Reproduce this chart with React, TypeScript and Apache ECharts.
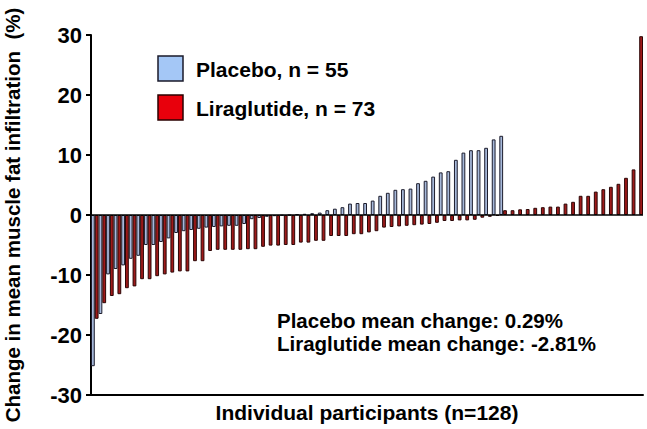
import React, { useEffect, useRef } from "react";
import * as echarts from "echarts";

const placebo: number[] = [
  -25.2, -16.5, -9.9, -9.0, -8.4, -7.3, -6.8, -5.0, -5.0, -4.5, -3.9, -3.0, -2.7,
  -2.5, -2.3, -2.1, -2.0, -1.9, -1.8, -1.8, -1.5, -0.7, -0.5, -0.3, -0.2, -0.1, -0.05,
  0.1, 0.2, 0.3, 0.4, 0.8, 1.05, 1.3, 1.9, 2.0, 2.0, 2.4, 3.2, 3.7, 4.2, 4.3, 4.4,
  5.3, 5.7, 6.4, 7.1, 7.3, 9.2, 10.4, 10.8, 10.8, 11.2, 12.6, 13.2,
];

const liraglutide: number[] = [
  -17.3, -14.7, -13.5, -13.2, -12.2, -11.9, -10.7, -10.7, -10.2, -9.9, -9.6, -9.4, -9.4,
  -7.7, -7.7, -6.0, -5.8, -5.8, -5.8, -5.8, -5.7, -5.7, -5.3, -5.1, -5.1,
  -5.0, -5.0, -4.6, -4.6, -4.3, -4.3, -3.5, -3.5, -3.5, -3.2, -3.2, -2.9, -2.7, -2.1,
  -2.0, -1.9, -1.8, -1.7, -1.6, -1.5, -1.3, -1.0, -1.0, -0.9, -0.9, -0.8, -0.45, -0.3, -0.15,
  0.8, 0.8, 0.95, 1.0, 1.2, 1.3, 1.4, 1.4, 1.9, 2.2, 3.2, 3.2, 3.9, 4.3, 4.7, 5.2, 6.2, 7.6, 29.8,
];

const categories: string[] = liraglutide.map((_, i) => String(i + 1));
const legendLabels: string[] = ["Placebo, n = 55", "Liraglutide, n = 73"];
const meanLabels: string[] = ["Placebo mean change: 0.29%", "Liraglutide mean change: -2.81%"];

const FONT = "'Liberation Sans', Arial, Helvetica, sans-serif";

export default function App() {
  const ref = useRef<HTMLDivElement>(null);
  useEffect(() => {
    if (!ref.current) return;
    const chart = echarts.init(ref.current, undefined, { renderer: "svg" });
    chart.setOption({
      animation: false,
      backgroundColor: "#ffffff",
      textStyle: { fontFamily: FONT },
      grid: { left: 91, right: 4, top: 35, bottom: 34, containLabel: false, outerBoundsMode: "none" },
      xAxis: {
        type: "category",
        data: categories,
        axisLine: { onZero: false, lineStyle: { color: "#000", width: 2 } },
        axisTick: { show: false },
        axisLabel: { show: false },
        splitLine: { show: false },
        name: "Individual participants (n=128)",
        nameLocation: "middle",
        nameGap: 7,
        nameTextStyle: { fontFamily: FONT, fontWeight: "bold", fontSize: 21, color: "#000" },
      },
      yAxis: {
        type: "value",
        min: -30,
        max: 30,
        interval: 10,
        axisLine: { show: true, lineStyle: { color: "#000", width: 2 } },
        axisTick: { show: true, length: 5, lineStyle: { color: "#000", width: 2 } },
        axisLabel: { fontFamily: FONT, fontWeight: "bold", fontSize: 22, color: "#000", margin: 9 },
        splitLine: { show: false },
        name: "Change in mean muscle fat infiltration  (%)",
        nameLocation: "middle",
        nameGap: 68,
        nameTextStyle: { fontFamily: FONT, fontWeight: "bold", fontSize: 20.5, color: "#000" },
      },
      series: [
        {
          name: "Placebo",
          type: "bar",
          data: placebo,
          barGap: "0%",
          barCategoryGap: "0%",
          itemStyle: { color: "#a7b9da", borderColor: "#1c1c2c", borderWidth: 1 },
        },
        {
          name: "Liraglutide",
          type: "bar",
          data: liraglutide,
          barGap: "0%",
          barCategoryGap: "0%",
          itemStyle: { color: "#9e1a1a", borderColor: "#2a0505", borderWidth: 1 },
          markLine: {
            silent: true,
            symbol: "none",
            label: { show: false },
            lineStyle: { color: "#000", width: 1.5, type: "solid" },
            data: [{ yAxis: 0 }],
          },
        },
      ],
      graphic: [
        { type: "rect", shape: { x: 158, y: 56, width: 25, height: 25 }, style: { fill: "#a4c7f6", stroke: "#1a1a2a", lineWidth: 1.5 } },
        { type: "text", x: 196, y: 69, style: { text: legendLabels[0], fontFamily: FONT, fontWeight: "bold", fontSize: 21, fill: "#000", verticalAlign: "middle" } },
        { type: "rect", shape: { x: 158, y: 95, width: 25, height: 25 }, style: { fill: "#e8000c", stroke: "#2a0000", lineWidth: 1.5 } },
        { type: "text", x: 196, y: 108, style: { text: legendLabels[1], fontFamily: FONT, fontWeight: "bold", fontSize: 21, fill: "#000", verticalAlign: "middle" } },
        { type: "text", x: 277, y: 320, style: { text: meanLabels[0], fontFamily: FONT, fontWeight: "bold", fontSize: 20.5, fill: "#000", verticalAlign: "middle" } },
        { type: "text", x: 277, y: 343, style: { text: meanLabels[1], fontFamily: FONT, fontWeight: "bold", fontSize: 20.5, fill: "#000", verticalAlign: "middle" } },
      ],
    });
    return () => chart.dispose();
  }, []);
  return (
    <div
      ref={ref}
      style={{ position: "fixed", left: 0, top: 0, width: 647, height: 429, background: "#fff" }}
    />
  );
}
